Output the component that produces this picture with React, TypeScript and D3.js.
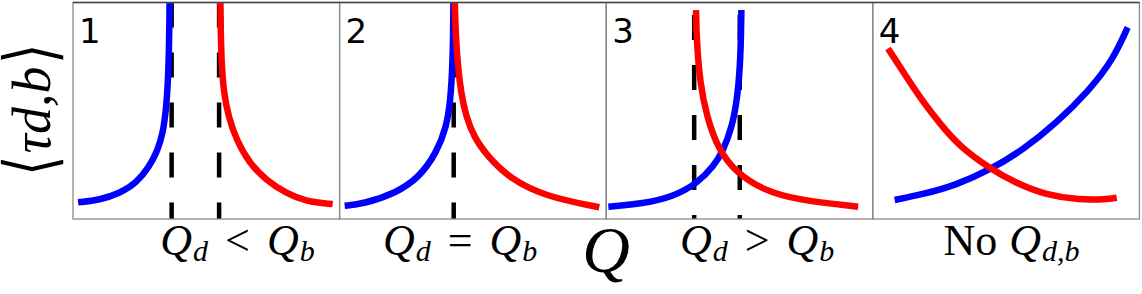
import React from "react";
import * as d3 from "d3";

// ---- data (each panel: x and y in panel units 0..100) ----
const panelNames = ["1", "2", "3", "4"];

const blue1: [number, number][] = [
  [1.9, 7.7], [10.0, 8.8], [17.5, 11.9], [23.7, 16.5], [28.7, 24.2], [31.8, 31.9],
  [33.7, 39.6], [34.9, 50.3], [35.6, 62.7], [36.0, 78.1], [36.2, 93.4], [36.2, 101.5],
];
const red1: [number, number][] = [
  [55.3, 101.5], [55.4, 85.8], [55.8, 70.3], [56.6, 58.1], [58.3, 47.3], [61.3, 36.5],
  [66.2, 25.7], [72.4, 18.0], [79.9, 11.9], [87.4, 8.0], [97.4, 6.9],
];
const dash1 = [37.0, 54.8];

const blue2: [number, number][] = [
  [1.9, 6.1], [8.6, 6.9], [21.3, 12.0], [30.0, 19.4], [36.3, 30.5], [40.1, 42.5],
  [41.6, 55.0], [42.3, 70.2], [42.6, 85.9], [42.7, 101.5],
];
const red2: [number, number][] = [
  [43.2, 101.5], [43.5, 85.9], [44.4, 70.0], [45.6, 58.0], [47.4, 47.5], [50.4, 37.8],
  [55.6, 28.8], [64.0, 18.5], [77.4, 10.3], [97.4, 5.4],
];
const dash2 = [42.8];

const blue3: [number, number][] = [
  [0.8, 5.7], [12.8, 6.9], [25.3, 10.3], [34.1, 16.5], [40.3, 24.2], [44.0, 31.9],
  [47.2, 42.6], [49.1, 55.0], [50.2, 70.3], [50.6, 85.8], [50.7, 96.5],
];
const red3: [number, number][] = [
  [33.7, 96.5], [33.9, 82.7], [35.2, 62.7], [37.7, 47.3], [42.1, 31.9], [49.0, 21.1],
  [58.9, 13.4], [71.4, 8.8], [94.5, 5.7],
];
const dash3 = [33.0, 50.1];

const blue4: [number, number][] = [
  [8.2, 8.8], [18.8, 11.4], [31.3, 15.7], [43.8, 22.6], [56.3, 31.9], [68.8, 44.2],
  [81.3, 59.6], [90.0, 73.4], [95.6, 88.5],
];
const red4: [number, number][] = [
  [5.7, 78.8], [12.6, 65.7], [18.8, 54.2], [25.1, 44.2], [32.6, 33.4], [43.8, 23.4],
  [53.8, 16.5], [65.0, 11.1], [77.5, 8.8], [87.5, 9.1], [91.5, 9.8],
];
const dash4: number[] = [];

const blueSeries = [blue1, blue2, blue3, blue4];
const redSeries = [red1, red2, red3, red4];
const dashSeries = [dash1, dash2, dash3, dash4];
const dashOffsets = [0, 0, 37.5, 0];

const bottomLabels = [
  { pre: "", a: "Q", as: "d", rel: "<", b: "Q", bs: "b" },
  { pre: "", a: "Q", as: "d", rel: "=", b: "Q", bs: "b" },
  { pre: "", a: "Q", as: "d", rel: ">", b: "Q", bs: "b" },
  { pre: "No", a: "", as: "", rel: "", b: "Q", bs: "d,b" },
];
const labelCenters = [61.7, 45.2, 56.6, 52.0];

const yLabelBody = "\u03C4d,b";
const yLabelOpen = "\u27E8";
const yLabelClose = "\u27E9";

const W = 1142;
const H = 294;
const left = 73;
const right = 1139.4;
const top = 2.5;
const bottom = 219;

const serif = "'Liberation Serif', 'DejaVu Serif', serif";

export default function App() {
  const panelX = d3.scaleLinear().domain([0, 4]).range([left, right]);
  const y = d3.scaleLinear().domain([0, 100]).range([bottom, top]);

  return (
    <svg
      width={W}
      height={H}
      style={{ position: "absolute", left: 0, top: 0, background: "#fff" }}
      xmlns="http://www.w3.org/2000/svg"
    >
      <defs>
        {panelNames.map((_, i) => (
          <clipPath id={`clip${i}`} key={i}>
            <rect x={panelX(i)} y={top} width={panelX(i + 1) - panelX(i)} height={bottom - top} />
          </clipPath>
        ))}
      </defs>
      {panelNames.map((name, i) => {
        const x = d3.scaleLinear().domain([0, 100]).range([panelX(i), panelX(i + 1)]);
        const line = d3
          .line<[number, number]>()
          .x((d) => x(d[0]))
          .y((d) => y(d[1]))
          .curve(d3.curveBasis);
        const lab = bottomLabels[i];
        return (
          <g key={i}>
            <g clipPath={`url(#clip${i})`}>
              {dashSeries[i].map((dx, j) => (
                <line
                  key={j}
                  x1={x(dx)}
                  x2={x(dx)}
                  y1={top}
                  y2={bottom}
                  stroke="#000"
                  strokeWidth={4.5}
                  strokeDasharray="25 25"
                  strokeDashoffset={dashOffsets[i]}
                />
              ))}
              <path d={line(blueSeries[i]) || ""} fill="none" stroke="#0000ff" strokeWidth={6.5} />
              <path d={line(redSeries[i]) || ""} fill="none" stroke="#ff0000" strokeWidth={6.5} />
            </g>
            <rect
              x={panelX(i)}
              y={top}
              width={panelX(i + 1) - panelX(i)}
              height={bottom - top}
              fill="none"
              stroke="#8a8a8a"
              strokeWidth={1.3}
            />
            <text
              x={panelX(i) + 6}
              y={43}
              fontFamily="'DejaVu Sans', sans-serif"
              fontSize={34}
              fill="#000"
            >
              {name}
            </text>
            <text
              x={x(labelCenters[i])}
              y={255}
              textAnchor="middle"
              fontFamily={serif}
              fontSize={44}
              fill="#000"
            >
              {lab.pre && <tspan>{lab.pre}</tspan>}
              {lab.a && <tspan fontStyle="italic">{lab.a}</tspan>}
              {lab.as && (
                <tspan fontStyle="italic" fontSize={30} dx={1} dy={6}>
                  {lab.as}
                </tspan>
              )}
              {lab.rel && (
                <tspan dx={17} dy={-6}>
                  {lab.rel}
                </tspan>
              )}
              <tspan fontStyle="italic" dx={lab.pre ? 12 : 17}>
                {lab.b}
              </tspan>
              <tspan fontStyle="italic" fontSize={30} dx={1} dy={6}>
                {lab.bs}
              </tspan>
            </text>
          </g>
        );
      })}
      <line x1={left} x2={right} y1={top} y2={top} stroke="#444" strokeWidth={1.3} />
      <text
        x={panelX(2)}
        y={272}
        textAnchor="middle"
        fontFamily={serif}
        fontStyle="italic"
        fontSize={66}
        fill="#000"
      >
        Q
      </text>
      <g transform="translate(50,110) rotate(-90)">
        <text textAnchor="middle" x={0} y={0} fontFamily={serif} fontStyle="italic" fontSize={54} fill="#000">
          {yLabelBody}
        </text>
        <text
          transform="translate(-56,3.6) scale(0.75,1)"
          textAnchor="middle"
          fontFamily="'DejaVu Sans', sans-serif"
          fontWeight={200}
          fontSize={70}
          fill="#000"
        >
          {yLabelOpen}
        </text>
        <text
          transform="translate(56,3.6) scale(0.75,1)"
          textAnchor="middle"
          fontFamily="'DejaVu Sans', sans-serif"
          fontWeight={200}
          fontSize={70}
          fill="#000"
        >
          {yLabelClose}
        </text>
      </g>
    </svg>
  );
}
